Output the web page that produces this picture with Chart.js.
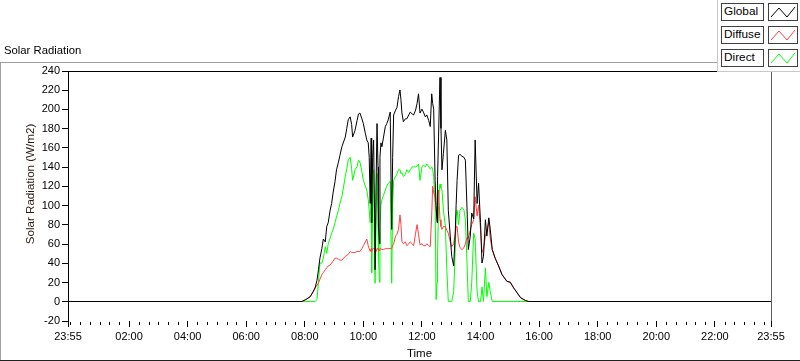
<!DOCTYPE html>
<html>
<head>
<meta charset="utf-8">
<script src="https://cdn.jsdelivr.net/npm/chart.js@4/dist/chart.umd.min.js"></script>
<style>
  html, body { margin:0; padding:0; background:#fff; }
  #wrap { position:relative; width:800px; height:361px; overflow:hidden; font-family:"Liberation Sans", Arial, sans-serif; }
  #c { position:absolute; left:0; top:0; }
  #title { position:absolute; left:4px; top:44px; font-size:11.3px; color:#000; }
  #legend { position:absolute; left:717px; top:0; width:83px; height:72px; background:#fff;
            border-left:1px solid #c8c8c8; border-bottom:1px solid #c8c8c8; box-sizing:border-box; }
  .lab { position:absolute; left:3px; width:43px; height:18px; box-sizing:border-box; border:1px solid #404040;
         font-size:11.8px; line-height:15px; padding-left:2px; color:#000; background:#fff; }
  .sw { position:absolute; left:50px; width:30px; height:18px; box-sizing:border-box; border:1px solid #404040; background:#fff; }
  .sw svg { position:absolute; left:0; top:0; }
</style>
</head>
<body>
<div id="wrap">
  <canvas id="c" width="800" height="361"></canvas>
  <div id="title">Solar Radiation</div>
  <div id="legend"></div>
</div>
<script>
// ---- data (minutes since midnight; axis runs 23:55 -> 23:55) ----
const seriesNames = ["Global", "Diffuse", "Direct"];
const seriesColors = ["#000000", "#ff4040", "#00ff00"];
const yTickValues = [-20, 0, 20, 40, 60, 80, 100, 120, 140, 160, 180, 200, 220, 240];
const xMajorTicks = [-5, 120, 240, 360, 480, 600, 720, 840, 960, 1080, 1200, 1320, 1435];
const xTickLabels = ["23:55", "02:00", "04:00", "06:00", "08:00", "10:00", "12:00", "14:00", "16:00", "18:00", "20:00", "22:00", "23:55"];

const times = [-5, 470, 474, 482, 491, 497, 501, 505, 508, 511, 515, 518, 522, 525, 528, 532, 535, 538, 542, 545, 549, 552, 556, 563, 566, 569, 573, 576, 578, 583, 587, 590, 593, 597, 600, 604, 607, 610, 612, 614, 616, 617, 619, 621, 623, 624, 626, 628, 630, 631, 633, 634, 636, 638, 641, 645, 648, 651, 655, 658, 660, 662, 666, 669, 672, 675, 677, 679, 682, 686, 689, 693, 696, 700, 703, 707, 710, 713, 716, 720, 723, 727, 730, 734, 737, 740, 742, 744, 747, 749, 751, 752, 754, 756, 757, 759, 761, 764, 768, 771, 774, 778, 781, 785, 788, 790, 792, 795, 798, 802, 806, 809, 812, 815, 819, 822, 826, 829, 833, 836, 840, 843, 846, 850, 853, 857, 860, 864, 870, 877, 884, 894, 901, 908, 915, 922, 932, 939, 1435];

const globalRad = [0, 0, 0, 2, 5, 10, 14, 22, 33, 45, 55, 65, 62, 78, 82, 95, 102, 113, 125, 137, 145, 152, 161, 171, 180, 189, 192, 184, 171, 178, 188, 195, 196, 190, 185, 175, 168, 165, 150, 102, 170, 82, 150, 168, 90, 33, 120, 185, 140, 78, 60, 150, 165, 161, 170, 182, 185, 189, 197, 75, 150, 194, 199, 202, 213, 220, 210, 196, 187, 190, 190, 194, 197, 195, 194, 199, 206, 216, 196, 200, 197, 192, 194, 188, 182, 216, 206, 200, 126, 100, 82, 130, 171, 215, 233, 180, 137, 154, 178, 168, 95, 68, 47, 37, 68, 100, 126, 152, 153, 151, 150, 147, 102, 54, 68, 92, 86, 168, 102, 123, 82, 40, 47, 85, 68, 87, 75, 54, 45, 37, 28, 21, 20, 14, 9, 4, 1, 0, 0];

const diffuseRad = [0, 0, 0, 2, 5, 10, 14, 17, 19, 23, 28, 30, 33, 35, 37, 38, 40, 42, 45, 45, 44, 43, 43, 47, 48, 49, 52, 51, 51, 51, 52, 52, 52, 55, 58, 62, 65, 58, 55, 52, 55, 52, 55, 55, 54, 50, 52, 55, 55, 53, 53, 55, 55, 54, 54, 55, 55, 55, 55, 55, 58, 60, 68, 70, 75, 90, 80, 62, 60, 62, 58, 60, 62, 60, 58, 71, 80, 70, 59, 60, 58, 58, 60, 58, 57, 90, 120, 113, 109, 95, 85, 100, 116, 95, 85, 78, 75, 78, 78, 74, 71, 62, 57, 60, 70, 78, 78, 62, 56, 54, 56, 60, 66, 66, 74, 80, 85, 109, 89, 100, 75, 51, 55, 68, 75, 82, 65, 54, 45, 37, 28, 21, 20, 14, 9, 4, 1, 0, 0];

const directRad = [0, 0, 0, 0, 0, 0, 0, 2, 20, 40, 40, 45, 57, 50, 60, 66, 71, 75, 82, 88, 95, 102, 109, 130, 138, 147, 150, 138, 126, 137, 140, 147, 145, 135, 126, 120, 116, 106, 95, 82, 120, 30, 100, 137, 51, 19, 80, 133, 90, 47, 20, 78, 100, 106, 110, 116, 120, 123, 125, 19, 100, 126, 130, 133, 137, 137, 133, 134, 130, 132, 137, 134, 137, 140, 140, 140, 141, 143, 126, 140, 142, 140, 143, 140, 138, 140, 137, 130, 102, 2, 20, 47, 100, 120, 122, 118, 116, 95, 78, 33, 0, 0, 0, 10, 50, 89, 95, 80, 95, 98, 95, 85, 45, 0, 0, 20, 71, 65, 10, 0, 0, 15, 0, 35, 5, 20, 10, 0, 0, 0, 0, 0, 0, 0, 0, 0, 0, 0, 0];

const seriesValues = [globalRad, diffuseRad, directRad];

// ---- legend (HTML) ----
const legend = document.getElementById('legend');
const legendTops = [3, 26, 49];
seriesNames.forEach((name, i) => {
  const lab = document.createElement('div');
  lab.className = 'lab'; lab.style.top = legendTops[i] + 'px'; lab.textContent = name;
  legend.appendChild(lab);
  const sw = document.createElement('div');
  sw.className = 'sw'; sw.style.top = legendTops[i] + 'px';
  sw.innerHTML = '<svg width="28" height="16"><polyline points="2,13 10,4 18,13 26,3" fill="none" stroke="' + seriesColors[i] + '" stroke-width="1"/></svg>';
  legend.appendChild(sw);
});

// ---- helpers / plugins ----
const FONT = '"Liberation Sans", Arial, sans-serif';
const framePlugin = {
  id: 'frame',
  beforeDraw(chart) {
    const ctx = chart.ctx;
    ctx.save();
    ctx.fillStyle = '#fff'; ctx.fillRect(0, 0, 800, 361);
    ctx.strokeStyle = '#a0a0a0'; ctx.lineWidth = 1;
    ctx.beginPath(); ctx.moveTo(0, 62.5); ctx.lineTo(717, 62.5);
    ctx.moveTo(0.5, 62); ctx.lineTo(0.5, 361); ctx.stroke();
    ctx.strokeStyle = '#202020';
    ctx.beginPath(); ctx.moveTo(0, 360.5); ctx.lineTo(800, 360.5); ctx.stroke();
    ctx.restore();
  },
  beforeDatasetsDraw(chart) {
    // nudge the traces so the zero level falls on a pixel centre (crisp baseline)
    const y0 = chart.scales.y.getPixelForValue(0);
    const dy = Math.floor(y0) + 0.5 - y0;
    chart.ctx.save();
    chart.ctx.translate(0, dy);
  },
  afterDatasetsDraw(chart) {
    chart.ctx.restore();
  },
  afterDraw(chart) {
    const ctx = chart.ctx, a = chart.chartArea, xs = chart.scales.x;
    ctx.save();
    ctx.lineWidth = 1;
    ctx.strokeStyle = '#000';
    ctx.beginPath(); ctx.moveTo(a.left, a.top + 0.5); ctx.lineTo(a.right + 1, a.top + 0.5); ctx.stroke();
    ctx.strokeStyle = '#606060';
    ctx.beginPath(); ctx.moveTo(a.right + 0.5, a.top); ctx.lineTo(a.right + 0.5, a.bottom); ctx.stroke();
    // minor x ticks every 20 minutes
    ctx.strokeStyle = '#000';
    ctx.beginPath();
    for (let m = 0; m <= 1420; m += 20) {
      if (m % 120 === 0 && m !== 0) continue;
      const px = Math.round(xs.getPixelForValue(m)) + 0.5;
      ctx.moveTo(px, a.bottom + 1); ctx.lineTo(px, a.bottom + 4);
    }
    ctx.stroke();
    // y axis title
    ctx.fillStyle = '#2a1a10';
    ctx.font = '11.6px ' + FONT;
    ctx.textAlign = 'center'; ctx.textBaseline = 'middle';
    ctx.translate(31, 184); ctx.rotate(-Math.PI / 2);
    ctx.fillText('Solar Radiation (W/m2)', 0, 0);
    ctx.restore();
  }
};

// dataset 0 (Global, black) is painted on top
const datasets = seriesNames.map((name, i) => ({
  label: name,
  data: times.map((t, k) => ({ x: t, y: seriesValues[i][k] })),
  borderColor: seriesColors[i],
  borderWidth: 1,
  pointRadius: 0,
  tension: 0,
  fill: false
}));

new Chart(document.getElementById('c'), {
  type: 'line',
  data: { datasets },
  options: {
    responsive: false,
    animation: false,
    devicePixelRatio: 1,
    events: [],
    layout: { padding: { top: 71, right: 29, left: 0, bottom: 0 } },
    plugins: { legend: { display: false }, tooltip: { enabled: false }, title: { display: false } },
    scales: {
      x: {
        type: 'linear', min: -5, max: 1435,
        afterBuildTicks(scale) { scale.ticks = xMajorTicks.map(v => ({ value: v })); },
        afterFit(scale) { scale.height = 40; },
        ticks: {
          autoSkip: false, maxRotation: 0, minRotation: 0, padding: 3,
          color: '#000', font: { size: 11, family: FONT },
          callback(v) { const i = xMajorTicks.indexOf(v); return i >= 0 ? xTickLabels[i] : ''; }
        },
        grid: { drawOnChartArea: false, drawTicks: true, tickLength: 6, color: '#000', tickColor: '#000' },
        border: { display: false },
        title: { display: true, text: 'Time', color: '#000', font: { size: 11.5, family: FONT }, padding: { top: 0, bottom: 0 } }
      },
      y: {
        type: 'linear', min: -20, max: 240,
        afterBuildTicks(scale) { scale.ticks = yTickValues.map(v => ({ value: v })); },
        afterFit(scale) { scale.width = 68; },
        ticks: { color: '#000', font: { size: 11, family: FONT }, padding: 2, autoSkip: false },
        grid: { drawOnChartArea: false, drawTicks: true, tickLength: 6, tickColor: '#000' },
        border: { display: true, color: '#000', width: 1 }
      }
    }
  },
  plugins: [framePlugin]
});
</script>
</body>
</html>
